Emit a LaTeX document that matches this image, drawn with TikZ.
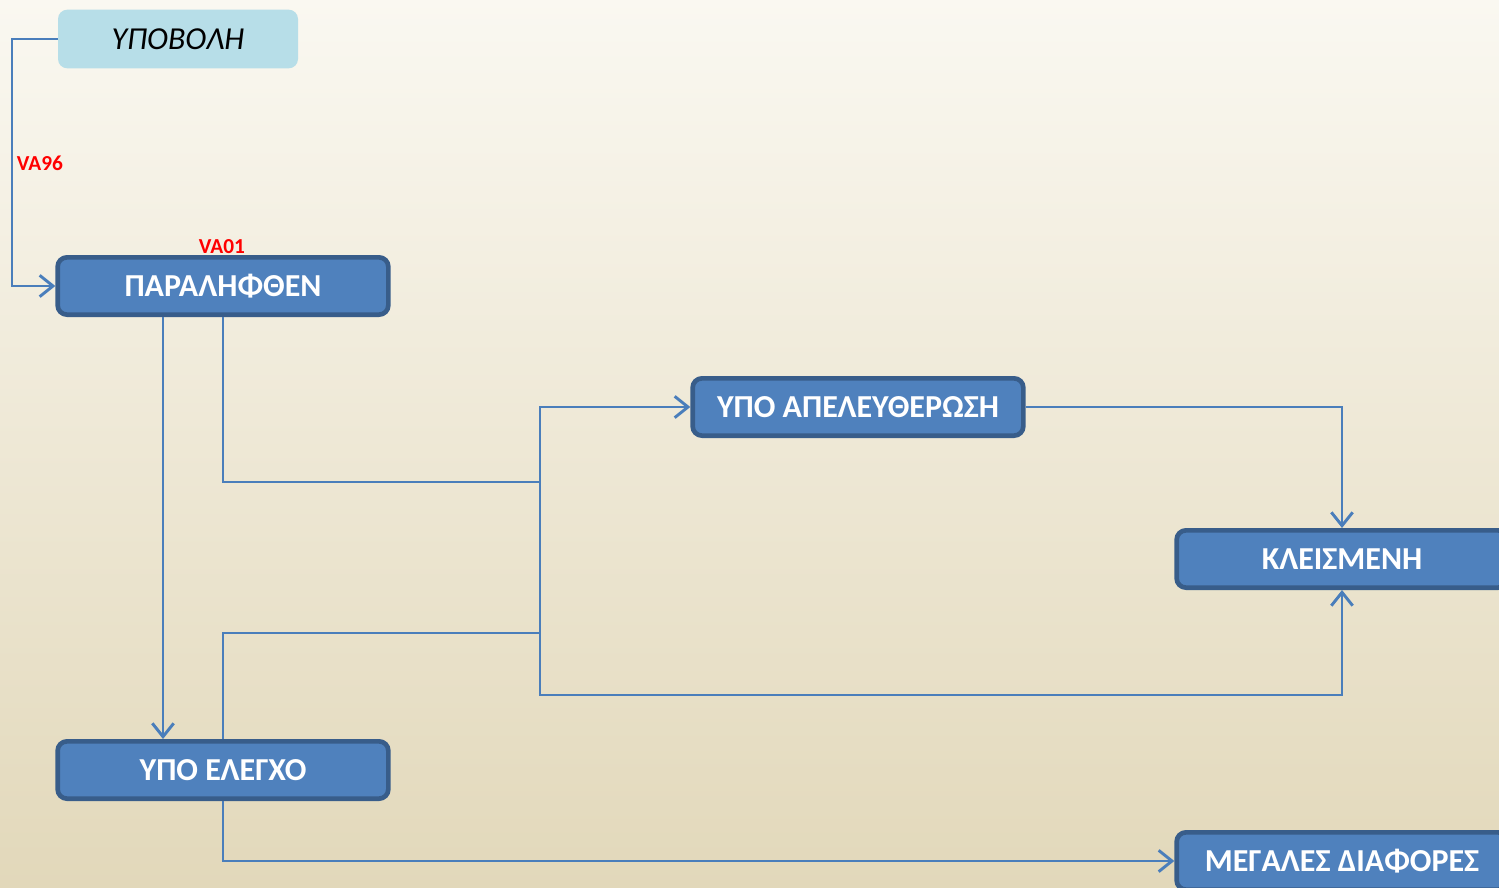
\documentclass[tikz,border=0pt]{standalone}
\usepackage{fontspec}
\setmainfont{Carlito}
\usetikzlibrary{arrows.meta}
\definecolor{bgtop}{HTML}{FAF8F1}
\definecolor{bgbot}{HTML}{E2D8BA}
\definecolor{boxfill}{HTML}{4F81BD}
\definecolor{boxline}{HTML}{385D8A}
\definecolor{subfill}{HTML}{B7DEE8}
\definecolor{flowline}{HTML}{4A7EBB}
\begin{document}
\begin{tikzpicture}[x=0.75pt,y=-0.75pt,
  stbox/.style={draw=boxline,line width=3.5pt,fill=boxfill,rounded corners=7pt,
    minimum width=248pt,minimum height=43pt,text=white,
    font=\fontsize{24}{27}\selectfont\bfseries},
  subbox/.style={fill=subfill,rounded corners=7pt,minimum width=180pt,
    minimum height=44pt,font=\fontsize{24}{27}\selectfont\itshape},
  link/.style={draw=flowline,line width=2.2pt},
  flow/.style={link,-{Straight Barb[length=10pt,width=16pt,line width=2.2pt]}},
  code/.style={text=red,font=\fontsize{16}{18}\selectfont\bfseries}]

	\useasboundingbox (0,0) rectangle (1499,888);
	\clip (0,0) rectangle (1499,888);
	\shade[top color=bgtop,bottom color=bgbot] (0,0) rectangle (1499,888);

	\node[subbox] (sub) at (178,39) {ΥΠΟΒΟΛΗ};
	\node[stbox] (rec) at (223,286) {ΠΑΡΑΛΗΦΘΕΝ};
	\node[stbox] (rel) at (858,407) {ΥΠΟ ΑΠΕΛΕΥΘΕΡΩΣΗ};
	\node[stbox] (cls) at (1342,559) {ΚΛΕΙΣΜΕΝΗ};
	\node[stbox] (ctl) at (223,770) {ΥΠΟ ΕΛΕΓΧΟ};
	\node[stbox] (big) at (1342,861) {ΜΕΓΑΛΕΣ ΔΙΑΦΟΡΕΣ};

	\coordinate (ja) at (540,482); \coordinate (jb) at (540,633);
	\coordinate (jc) at (540,695);

	\draw[flow] (sub.west) -- (12,39) |- (rec.west);
	\draw[flow] ([xshift=-45pt]rec.south) -- ([xshift=-45pt]ctl.north);
	\draw[flow] (rec.south) |- (ja) |- (rel.west);
	\draw[link] (ctl.north) |- (jb);
	\draw[flow] (ja) -- (jc) -| (cls.south);
	\draw[flow] (rel.east) -| (cls.north);
	\draw[flow] (ctl.south) |- (big.west);

	\node[code] (va96) at (40,163) {VA96};
	\node[code] (va01) at (222,247) {VA01};
\end{tikzpicture}
\end{document}
